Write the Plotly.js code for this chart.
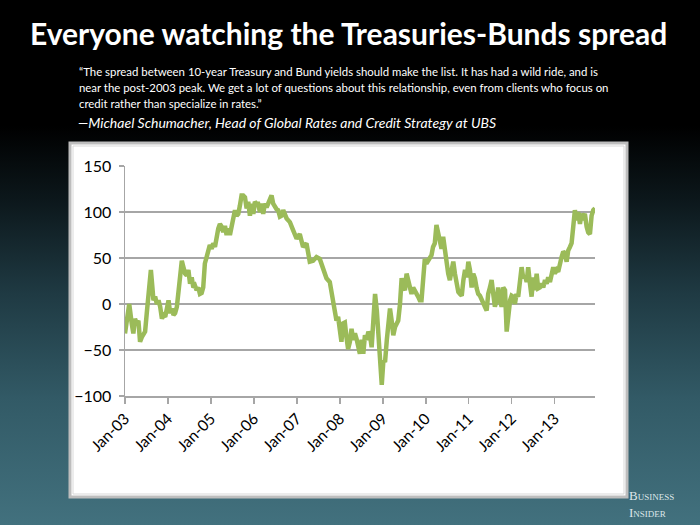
<!DOCTYPE html>
<html>
<head>
<meta charset="utf-8">
<script src="https://cdn.plot.ly/plotly-3.0.1.min.js"></script>
<style>
  html, body { margin: 0; padding: 0; width: 700px; height: 525px; overflow: hidden; }
  body { background: linear-gradient(to bottom, #000000 0%, #000000 24%, #0c171b 38%, #1f3a43 56%, #325a66 76%, #42717e 100%); }
  #chart { width: 700px; height: 525px; }
</style>
</head>
<body>
<div id="chart"></div>
<script>
// Spread between 10-year Treasury and Bund yields (bp)
const dates = [
 "2003-01-01","2003-02-06","2003-02-27","2003-03-13","2003-03-27","2003-04-11","2003-04-25","2003-05-09","2003-05-24","2003-06-06","2003-06-21","2003-07-05","2003-07-19","2003-08-09","2003-08-22","2003-08-31","2003-09-14","2003-09-29","2003-10-13","2003-10-27","2003-11-11","2003-11-24","2003-12-09","2003-12-23",
 "2004-01-06","2004-01-20","2004-02-04","2004-02-17","2004-03-02","2004-03-17","2004-03-30","2004-04-14","2004-04-28","2004-05-12","2004-05-26","2004-06-09","2004-06-23","2004-07-07","2004-07-21","2004-08-04","2004-08-18","2004-09-01","2004-09-15","2004-09-29","2004-10-14","2004-10-27","2004-11-10","2004-11-25","2004-12-08","2004-12-22",
 "2005-01-07","2005-01-20","2005-02-04","2005-02-18","2005-03-04","2005-03-18","2005-04-02","2005-04-15","2005-04-30","2005-05-14","2005-05-28","2005-06-11","2005-06-26","2005-07-09","2005-07-24","2005-08-07","2005-08-21","2005-09-04","2005-09-18","2005-10-02","2005-10-17","2005-10-31","2005-11-14","2005-11-28","2005-12-13","2005-12-27",
 "2006-01-09","2006-01-24","2006-02-06","2006-02-21","2006-03-07","2006-03-21","2006-04-04","2006-04-19","2006-05-02","2006-05-17","2006-05-31","2006-06-14","2006-06-28","2006-07-13","2006-07-26","2006-08-10","2006-08-24","2006-09-07","2006-10-06","2006-11-03","2006-12-01","2006-12-30",
 "2007-01-26","2007-02-23","2007-03-24","2007-04-21","2007-05-19","2007-06-17","2007-07-15","2007-08-13","2007-09-10","2007-10-08","2007-11-05","2007-11-20","2007-12-04","2007-12-18",
 "2008-01-01","2008-01-15","2008-01-29","2008-02-13","2008-02-27","2008-03-12","2008-03-27","2008-04-10","2008-04-24","2008-05-09","2008-05-23","2008-06-06","2008-06-20","2008-07-05","2008-07-19","2008-08-02","2008-08-17","2008-08-31","2008-09-14","2008-09-28","2008-10-13","2008-10-27","2008-11-11","2008-11-24","2008-12-09","2008-12-23",
 "2009-01-06","2009-01-20","2009-02-04","2009-02-17","2009-03-03","2009-03-17","2009-03-31","2009-04-15","2009-04-29","2009-05-12","2009-05-27","2009-06-10","2009-06-24","2009-07-08","2009-07-22","2009-08-05","2009-08-19","2009-09-02","2009-09-16","2009-09-30","2009-10-15","2009-10-28","2009-11-11","2009-11-26","2009-12-09","2009-12-24",
 "2010-01-07","2010-01-20","2010-02-04","2010-02-19","2010-03-04","2010-03-19","2010-04-02","2010-04-16","2010-05-01","2010-05-15","2010-05-29","2010-06-12","2010-06-27","2010-07-11","2010-07-25","2010-08-09","2010-08-23","2010-09-06","2010-09-21","2010-10-05","2010-10-19","2010-11-03","2010-11-17","2010-12-01","2010-12-16","2010-12-29",
 "2011-01-12","2011-01-26","2011-02-09","2011-02-23","2011-03-10","2011-03-23","2011-04-07","2011-04-21","2011-05-05","2011-05-19","2011-06-03","2011-06-16","2011-07-01","2011-07-15","2011-07-29","2011-08-12","2011-08-27","2011-09-09","2011-09-24","2011-10-08","2011-10-22","2011-11-06","2011-11-20","2011-12-04","2011-12-19",
 "2012-01-01","2012-01-14","2012-01-29","2012-02-12","2012-02-26","2012-03-11","2012-03-26","2012-04-09","2012-04-23","2012-05-08","2012-05-21","2012-06-05","2012-06-19","2012-07-03","2012-07-17","2012-08-01","2012-08-14","2012-08-29","2012-09-12","2012-09-26","2012-10-11","2012-10-25","2012-11-07","2012-11-22","2012-12-06","2012-12-20",
 "2013-01-03","2013-01-18","2013-01-31","2013-02-15","2013-03-01","2013-03-15","2013-03-29","2013-04-13","2013-04-26","2013-05-11","2013-05-25","2013-06-08","2013-06-22","2013-07-07","2013-07-20","2013-08-04","2013-08-18","2013-09-01","2013-09-15","2013-09-30","2013-10-13","2013-10-28","2013-11-11","2013-11-25","2013-12-10"
];
const spread = [
 -32,0,-21,-32,-16,-21,-18,-41,-36,-32,-30,-10,11,37,18,4,8,0,4,-3,-16,-12,-14,-3,
 4,-10,-5,-12,-10,-3,11,33,47,40,33,31,37,22,29,18,20,15,18,11,12,18,44,51,58,64,
 60,66,62,73,82,87,84,78,85,75,82,75,87,93,102,96,98,107,118,118,116,104,111,96,109,98,
 111,109,109,100,109,98,109,105,109,111,118,109,105,103,102,95,96,102,93,89,80,71,
 76,62,66,46,47,51,49,37,28,24,4,-11,-18,-14,
 -25,-41,-21,-20,-36,-49,-41,-27,-39,-32,-38,-47,-54,-39,-54,-34,-39,-30,-34,-47,-10,11,-7,-39,-68,-88,
 -61,-63,-39,-18,-5,-18,-34,-25,-21,-18,0,28,18,15,33,24,18,11,18,13,11,8,4,4,33,49,
 44,47,51,53,62,66,86,78,64,60,73,58,47,33,26,40,46,33,22,13,11,9,26,37,29,46,
 37,18,33,28,17,11,9,4,-1,-3,-7,11,18,26,11,-3,4,18,4,-3,18,15,-30,-7,4,
 9,8,0,11,8,29,40,28,31,24,40,22,8,29,15,33,17,18,22,18,26,22,29,24,33,40,
 33,37,35,47,51,57,55,46,58,62,66,84,102,91,100,87,98,95,98,84,78,76,96,102,104
];
const yTicks = [-100, -50, 0, 50, 100, 150];

const titleText = "Everyone watching the Treasuries-Bunds spread";
const quoteLines = [
 "\u201CThe spread between 10-year Treasury and Bund yields should make the list. It has had a wild ride, and is",
 "near the post-2003 peak. We get a lot of questions about this relationship, even from clients who focus on",
 "credit rather than specialize in rates.\u201D"
];
const attribution = "\u2014Michael Schumacher, Head of Global Rates and Credit Strategy at UBS";

// plot area in pixels: x 125..595, y 166..396
const L = 125, R = 105, T = 166, B = 129;
const PW = 700 - L - R, PH = 525 - T - B;
const px = x => (x - L) / PW;
const py = y => (525 - B - y) / PH;

const quoteY = [72, 88, 103];
const annotations = quoteLines.map((t, i) => ({
  text: t, xref: 'paper', yref: 'paper', x: px(77), y: py(quoteY[i]),
  xanchor: 'left', yanchor: 'middle', showarrow: false,
  font: {family: 'Lato, sans-serif', size: 11.4, color: '#ffffff'}
}));
annotations.push({
  text: '<i>' + attribution + '</i>', xref: 'paper', yref: 'paper', x: px(76), y: py(122),
  xanchor: 'left', yanchor: 'middle', showarrow: false,
  font: {family: 'Lato, sans-serif', size: 14, color: '#ffffff'}
});
annotations.push({
  text: 'Business<br>Insider', xref: 'paper', yref: 'paper', x: px(627), y: py(504),
  xanchor: 'left', yanchor: 'middle', align: 'left', showarrow: false,
  font: {family: 'Liberation Serif, serif', size: 13, color: '#dde6e9', variant: 'small-caps'}
});

const layout = {
  width: 700, height: 525,
  paper_bgcolor: 'rgba(0,0,0,0)', plot_bgcolor: '#ffffff',
  margin: {l: L, r: R, t: T, b: B, pad: 0},
  showlegend: false,
  title: {
    text: '<b>' + titleText + '</b>', xref: 'container', yref: 'container',
    x: 0.498, xanchor: 'center', y: 1 - 34/525, yanchor: 'middle',
    font: {family: 'Lato, sans-serif', size: 30, color: '#ffffff'}
  },
  xaxis: {
    type: 'date', range: ['2003-01-01', '2013-12-10'],
    tick0: '2003-01-01', dtick: 'M12', tickformat: '%b-%y', tickangle: -45,
    ticks: 'outside', ticklen: 6, tickcolor: '#a6a6a6', tickwidth: 1.5,
    showgrid: false, showline: true, linecolor: '#a6a6a6', linewidth: 1.5,
    tickfont: {family: 'Lato, sans-serif', size: 15.5, color: '#000000'},
    zeroline: false, fixedrange: true
  },
  yaxis: {
    range: [-100, 150], tickvals: yTicks,
    ticks: 'outside', ticklen: 5, tickcolor: '#a6a6a6', tickwidth: 1.5,
    showgrid: true, gridcolor: '#a6a6a6', gridwidth: 1.5,
    showline: true, linecolor: '#a6a6a6', linewidth: 1.5,
    zeroline: false, ticklabelstandoff: 4,
    tickfont: {family: 'Lato, sans-serif', size: 16, color: '#000000'},
    fixedrange: true
  },
  shapes: [
    {type: 'rect', xref: 'paper', yref: 'paper', layer: 'below',
     x0: px(70), x1: px(627), y0: py(497), y1: py(143),
     fillcolor: '#ffffff', line: {color: '#bdbdbd', width: 3}},
    {type: 'rect', xref: 'paper', yref: 'paper', layer: 'below',
     x0: px(73), x1: px(624), y0: py(494), y1: py(146),
     fillcolor: 'rgba(0,0,0,0)', line: {color: '#d9d9d9', width: 1}}
  ],
  annotations: annotations
};

const trace = {
  type: 'scatter', mode: 'lines', x: dates, y: spread,
  line: {color: '#9bbb59', width: 4.5, shape: 'linear'},
  hoverinfo: 'skip', cliponaxis: false
};

Plotly.newPlot('chart', [trace], layout, {staticPlot: true, displayModeBar: false});
</script>
</body>
</html>
